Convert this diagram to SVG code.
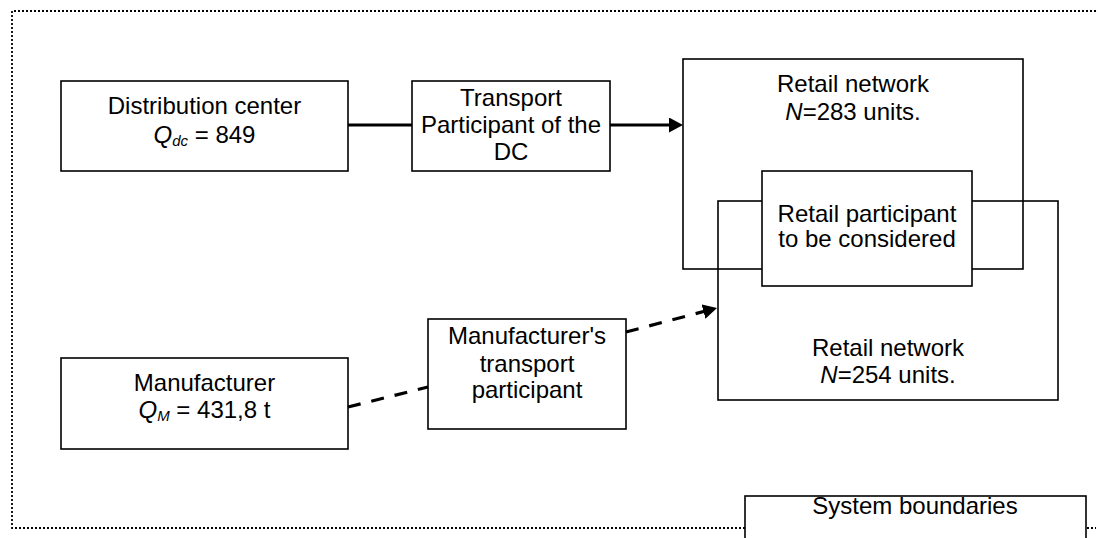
<svg xmlns="http://www.w3.org/2000/svg" width="1096" height="538" viewBox="0 0 1096 538">
  <style>
    .box { fill: none; stroke: #000; stroke-width: 1.6; }
    .box-w { fill: #fff; stroke: #000; stroke-width: 1.6; }
    .lbl { font-family: "Liberation Sans", Arial, sans-serif; font-size: 24px; fill: #000; text-anchor: middle; }
    .it { font-style: italic; }
    .sub { font-style: italic; font-size: 15px; }
    .boundary { fill: none; stroke: #000; stroke-width: 1.8; stroke-dasharray: 2 2; }
    .flow { fill: none; stroke: #000; stroke-width: 3.2; }
    .flow-dash { fill: none; stroke: #000; stroke-width: 3.2; stroke-dasharray: 13 11; }
  </style>
  <defs>
    <marker id="arrow" viewBox="0 0 14 15" refX="3" refY="7.5" markerWidth="14" markerHeight="15" markerUnits="userSpaceOnUse" orient="auto">
      <path d="M0,0 L14,7.5 L0,15 Z" fill="#000"/>
    </marker>
  </defs>

  <rect width="1096" height="538" fill="#fff"/>

  <!-- system boundary (dotted frame, open on the right) -->
  <path class="boundary" d="M1096,11 H12 V528 H1096"/>

  <g id="distribution-center">
    <rect class="box" x="61" y="81" width="287" height="90"/>
    <text class="lbl" x="204.5" y="114">Distribution center</text>
    <text class="lbl" x="204.5" y="143"><tspan class="it">Q</tspan><tspan class="sub" dy="3">dc</tspan><tspan dy="-3"> = 849</tspan></text>
  </g>

  <g id="transport-dc">
    <rect class="box" x="412" y="81" width="198" height="90"/>
    <text class="lbl" x="511" y="106">Transport</text>
    <text class="lbl" x="511" y="133">Participant of the</text>
    <text class="lbl" x="511" y="160">DC</text>
  </g>

  <g id="retail-network-283">
    <rect class="box" x="683" y="59" width="340" height="210"/>
    <text class="lbl" x="853" y="92">Retail network</text>
    <text class="lbl" x="853" y="119.5"><tspan class="it">N</tspan>=283 units.</text>
  </g>

  <g id="retail-network-254">
    <rect class="box" x="718" y="201" width="340" height="199"/>
    <text class="lbl" x="888" y="356">Retail network</text>
    <text class="lbl" x="888" y="383"><tspan class="it">N</tspan>=254 units.</text>
  </g>

  <g id="retail-participant">
    <rect class="box-w" x="762" y="171" width="210" height="115"/>
    <text class="lbl" x="867" y="222">Retail participant</text>
    <text class="lbl" x="867" y="247">to be considered</text>
  </g>

  <g id="manufacturer">
    <rect class="box" x="61" y="358" width="287" height="91"/>
    <text class="lbl" x="204.5" y="391">Manufacturer</text>
    <text class="lbl" x="204.5" y="418"><tspan class="it">Q</tspan><tspan class="sub" dy="3">M</tspan><tspan dy="-3"> = 431,8 t</tspan></text>
  </g>

  <g id="transport-manufacturer">
    <rect class="box" x="428" y="319" width="198" height="110"/>
    <text class="lbl" x="527" y="344">Manufacturer's</text>
    <text class="lbl" x="527" y="372">transport</text>
    <text class="lbl" x="527" y="398">participant</text>
  </g>

  <g id="connectors">
    <line class="flow" x1="348" y1="125" x2="412" y2="125"/>
    <line class="flow" x1="610" y1="125" x2="672" y2="125" marker-end="url(#arrow)"/>
    <line class="flow-dash" x1="348" y1="407" x2="428" y2="387"/>
    <line class="flow-dash" x1="626" y1="332" x2="706.4" y2="310.8" marker-end="url(#arrow)"/>
  </g>

  <g id="system-boundaries">
    <rect class="box-w" x="745" y="496" width="341" height="50"/>
    <text class="lbl" x="915" y="514">System boundaries</text>
  </g>
</svg>
